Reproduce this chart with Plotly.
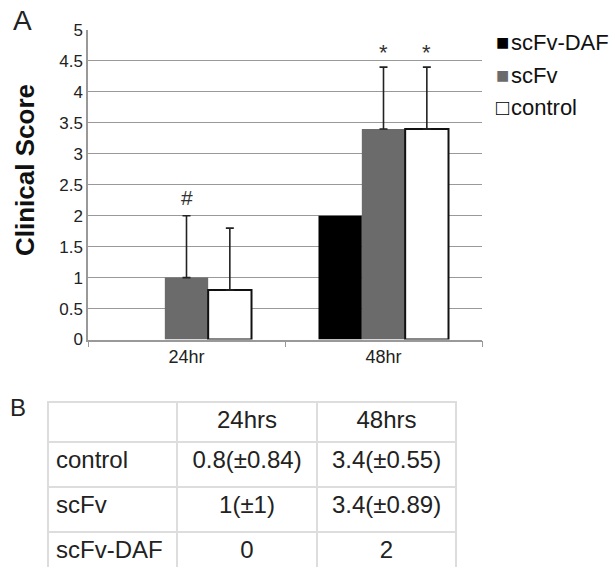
import plotly.graph_objects as go

categories = ["24hr", "48hr"]
series_names = ["scFv-DAF", "scFv", "control"]
scfv_daf = [0, 2]
scfv = [1, 3.4]
control = [0.8, 3.4]
scfv_err = [1, 1]
control_err = [1, 1]
y_ticks = [0, 0.5, 1, 1.5, 2, 2.5, 3, 3.5, 4, 4.5, 5]

table_header = ["", "24hrs", "48hrs"]
table_rows = ["control", "scFv", "scFv-DAF"]
table_24 = ["0.8(\u00b10.84)", "1(\u00b11)", "0"]
table_48 = ["3.4(\u00b10.55)", "3.4(\u00b10.89)", "2"]

colors = ["#000000", "#6b6b6b", "#ffffff"]

W, H = 614, 567
FONT = "Arial, Liberation Sans, sans-serif"

def px(x):
    return x / W

def py(y):
    return 1 - y / H

fig = go.Figure()
fig.add_trace(go.Bar(x=categories, y=scfv_daf, name=series_names[0],
                     marker=dict(color=colors[0], line=dict(color="#000000", width=0))))
fig.add_trace(go.Bar(x=categories, y=scfv, name=series_names[1],
                     marker=dict(color=colors[1], line=dict(color=colors[1], width=0)),
                     error_y=dict(type="data", symmetric=False, array=scfv_err,
                                  arrayminus=[0, 0], color="#222222", thickness=1.6, width=4)))
fig.add_trace(go.Bar(x=categories, y=control, name=series_names[2],
                     marker=dict(color=colors[2], line=dict(color="#111111", width=2)),
                     error_y=dict(type="data", symmetric=False, array=control_err,
                                  arrayminus=[0, 0], color="#222222", thickness=1.6, width=4)))

fig.add_trace(go.Table(
    domain=dict(x=[px(48), px(456)], y=[0, py(402)]),
    columnwidth=[129, 140, 139],
    header=dict(values=table_header, height=40,
                align=["left", "center", "center"],
                font=dict(family=FONT, size=24, color="#222222"),
                fill_color="white", line=dict(color="#dddddd", width=2)),
    cells=dict(values=[table_rows, table_24, table_48], height=45,
               align=["left", "center", "center"],
               font=dict(family=FONT, size=24, color="#222222"),
               fill_color="white", line=dict(color="#dddddd", width=2)),
))

bw = (1 - 0.34) / 3
fig.add_annotation(x=0, y=2.3, xref="x", yref="y", text="#", showarrow=False,
                   font=dict(family=FONT, size=21, color="#333333"))
fig.add_annotation(x=1, y=4.64, xref="x", yref="y", text="*", showarrow=False,
                   font=dict(family=FONT, size=22, color="#333333"))
fig.add_annotation(x=1 + bw, y=4.64, xref="x", yref="y", text="*", showarrow=False,
                   font=dict(family=FONT, size=22, color="#333333"))

# legend drawn as text entries
legend_y = [42, 75, 107]
glyphs = ["\u25a0", "\u25a0", "\u25a1"]
glyph_colors = ["#000000", "#6b6b6b", "#000000"]
for name, g, gc, yy in zip(series_names, glyphs, glyph_colors, legend_y):
    fig.add_annotation(x=px(494), y=py(yy), xref="paper", yref="paper", xanchor="left",
                       yanchor="middle", showarrow=False,
                       text=(f'<span style="color:{gc};font-size:22px">{g}</span>'
                             f'<span style="font-size:6px"> </span>{name}'),
                       font=dict(family=FONT, size=22, color="#111111"))

fig.add_annotation(x=px(25), y=py(170), xref="paper", yref="paper", text="<b>Clinical Score</b>",
                   textangle=-90, showarrow=False, xanchor="center", yanchor="middle",
                   font=dict(family=FONT, size=26, color="#111111"))
fig.add_annotation(x=px(22), y=py(20), xref="paper", yref="paper", text="A", showarrow=False,
                   xanchor="center", yanchor="middle",
                   font=dict(family=FONT, size=28, color="#222222"))
fig.add_annotation(x=px(18), y=py(407), xref="paper", yref="paper", text="B", showarrow=False,
                   xanchor="center", yanchor="middle",
                   font=dict(family=FONT, size=24, color="#222222"))

fig.update_layout(
    width=W, height=H,
    margin=dict(l=0, r=0, t=0, b=0),
    paper_bgcolor="white", plot_bgcolor="white",
    barmode="group", bargap=0.34, bargroupgap=0,
    showlegend=False,
    font=dict(family=FONT, color="#222222"),
    xaxis=dict(domain=[px(88), px(482)], type="category", showgrid=False, automargin=False,
               showline=True, linecolor="#999999", linewidth=1.5,
               ticks="outside", tickson="boundaries", ticklen=6, tickcolor="#999999",
               tickfont=dict(family=FONT, size=18, color="#222222"), anchor="y"),
    yaxis=dict(domain=[py(339.5), py(30)], range=[0, 5], tickvals=y_ticks, automargin=False,
               ticktext=[f"{v:g}" for v in y_ticks],
               showgrid=True, gridcolor="#999999", gridwidth=1.2,
               showline=True, linecolor="#999999", linewidth=1.5,
               ticks="", zeroline=False,
               tickfont=dict(family=FONT, size=17, color="#222222"), anchor="x"),
)

fig.write_html("out.html", config={"displayModeBar": False},
               post_script="document.body.style.margin='0px';")
